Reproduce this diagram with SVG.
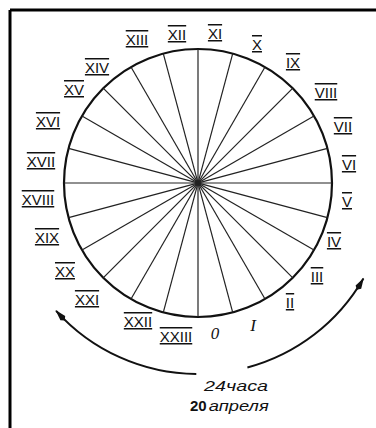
<svg xmlns="http://www.w3.org/2000/svg" width="376" height="428" viewBox="0 0 376 428">
<style>
.frame{stroke:#000;stroke-width:3;fill:none}
.dial{stroke:#111;stroke-width:2.2;fill:none}
.spoke{stroke:#222;stroke-width:1.2}
.arc{stroke:#111;stroke-width:2;fill:none}
.num{font-family:"Liberation Sans Narrow","Liberation Sans",sans-serif;font-size:15px;fill:#111;text-anchor:middle;text-decoration:underline overline}
.plain{font-family:"Liberation Serif",serif;font-size:17px;fill:#111;text-anchor:middle;font-style:italic}
.cap{font-family:"Liberation Sans",sans-serif;font-size:15px;fill:#111;font-style:italic}
</style>
<defs>
<marker id="ah" viewBox="0 0 14 8" refX="13" refY="4" markerWidth="14" markerHeight="8" markerUnits="userSpaceOnUse" orient="auto">
<path d="M0,4 L3,0.8 L14,4 L3,7.2 Z" fill="#111"/>
</marker>
</defs>
<g id="frame">
<line class="frame" x1="10" y1="10" x2="376" y2="10"/>
<line class="frame" x1="10" y1="10" x2="10" y2="428"/>
</g>
<g id="dial">
<circle class="dial" cx="198" cy="183" r="134"/>
</g>
<g id="spokes">
<line class="spoke" x1="64" y1="183" x2="332" y2="183"/>
<line class="spoke" x1="327.4" y1="217.7" x2="68.6" y2="148.3"/>
<line class="spoke" x1="314" y1="250" x2="82" y2="116"/>
<line class="spoke" x1="292.8" y1="277.8" x2="103.2" y2="88.2"/>
<line class="spoke" x1="265" y1="299" x2="131" y2="67"/>
<line class="spoke" x1="232.7" y1="312.4" x2="163.3" y2="53.6"/>
<line class="spoke" x1="198" y1="317" x2="198" y2="49"/>
<line class="spoke" x1="163.3" y1="312.4" x2="232.7" y2="53.6"/>
<line class="spoke" x1="131" y1="299" x2="265" y2="67"/>
<line class="spoke" x1="103.2" y1="277.8" x2="292.8" y2="88.2"/>
<line class="spoke" x1="82" y1="250" x2="314" y2="116"/>
<line class="spoke" x1="68.6" y1="217.7" x2="327.4" y2="148.3"/>
</g>
<g id="labels">
<text class="num" x="137" y="45">XIII</text>
<text class="num" x="177" y="40">XII</text>
<text class="num" x="215" y="39">XI</text>
<text class="num" x="257" y="50">X</text>
<text class="num" x="293" y="68">IX</text>
<text class="num" x="326" y="98">VIII</text>
<text class="num" x="343" y="132">VII</text>
<text class="num" x="349" y="170">VI</text>
<text class="num" x="347" y="207">V</text>
<text class="num" x="334" y="247">IV</text>
<text class="num" x="317" y="282">III</text>
<text class="num" x="290" y="308">II</text>
<text class="plain" x="253" y="331">I</text>
<text class="plain" x="215" y="339">0</text>
<text class="num" x="176" y="342">XXIII</text>
<text class="num" x="138" y="327">XXII</text>
<text class="num" x="87" y="305">XXI</text>
<text class="num" x="65" y="277">XX</text>
<text class="num" x="47" y="243">XIX</text>
<text class="num" x="38" y="205">XVIII</text>
<text class="num" x="41" y="167">XVII</text>
<text class="num" x="48" y="127">XVI</text>
<text class="num" x="74" y="95">XV</text>
<text class="num" x="97" y="73">XIV</text>
</g>
<g id="connectors">
<path class="arc" d="M196.3,374 A191,191 0 0 1 56.1,310.8" marker-end="url(#ah)"/>
<path class="arc" d="M247.4,367.5 A191,191 0 0 0 363.4,278.5" marker-end="url(#ah)"/>
</g>
<g id="caption">
<text class="cap" x="204" y="391" textLength="64" lengthAdjust="spacingAndGlyphs">24часа</text>
<text class="cap" x="190" y="411"><tspan font-weight="bold" font-style="normal">20</tspan><tspan dx="2" textLength="60" lengthAdjust="spacingAndGlyphs">апреля</tspan></text>
</g>
</svg>
